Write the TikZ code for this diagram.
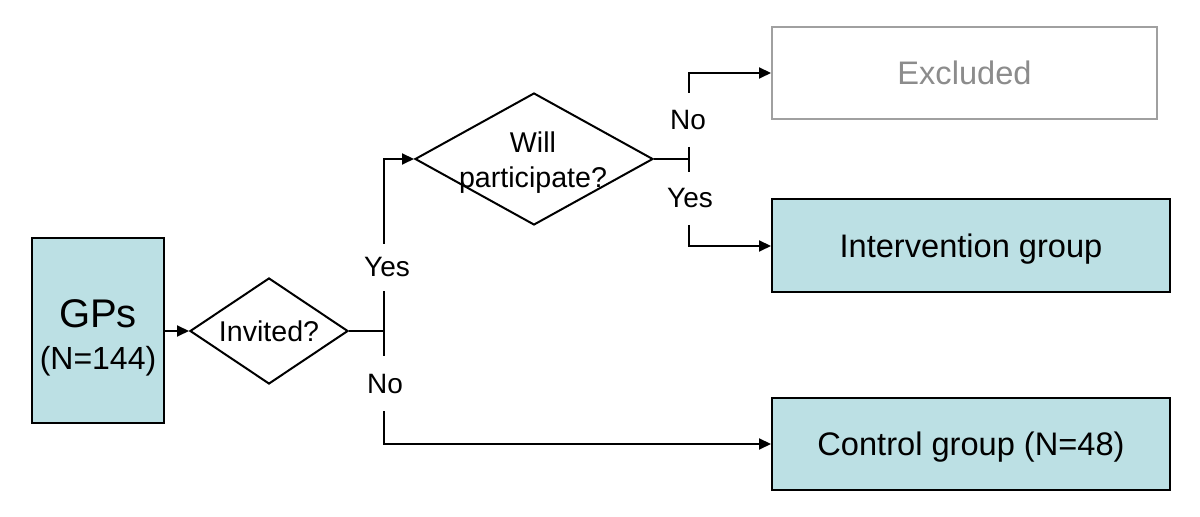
\documentclass[tikz,border=0pt]{standalone}
\usepackage{fontspec}
\setmainfont{Liberation Sans}
\usetikzlibrary{shapes.geometric,arrows.meta}
\definecolor{boxblue}{RGB}{188,224,228}
\definecolor{exgray}{RGB}{160,160,160}
\definecolor{extext}{RGB}{140,140,140}
\begin{document}
\begin{tikzpicture}[x=0.5pt,y=-0.5pt,
  line width=1pt,
  arr/.style={-{Triangle[length=6pt,width=5.5pt]}},
  bluebox/.style={draw=black,fill=boxblue,inner sep=0pt,font=\fontsize{16.3}{19}\selectfont,
    text height=11.7pt,text depth=0pt},
  dec/.style={draw=black,shape=diamond,inner sep=0pt},
  dtext/.style={font=\fontsize{14.3}{17.5}\selectfont,align=center,inner sep=0pt},
  lab/.style={font=\fontsize{14}{16}\selectfont,inner sep=0pt,minimum width=10pt}]
\useasboundingbox (0,0) rectangle (1200,517);
% boxes
\node[bluebox,minimum width=66pt,minimum height=92.5pt] (gps) at (98,331) {};
\node[font=\fontsize{20}{23}\selectfont,inner sep=0pt,text height=14.3pt,text depth=0pt] (gpst) at (98,313) {GPs};
\node[font=\fontsize{16}{19}\selectfont,inner sep=0pt,text height=11.5pt,text depth=0pt] (gpsn) at (98,358) {(N=144)};
\node[draw=exgray,line width=1pt,fill=white,text=extext,inner sep=0pt,font=\fontsize{16.3}{19}\selectfont,
  text height=11.7pt,text depth=0pt,
  minimum width=192.5pt,minimum height=46pt] (excl) at (964.5,73) {Excluded};
\node[bluebox,minimum width=199pt,minimum height=46.5pt] (int) at (971,246) {Intervention group};
\node[bluebox,minimum width=199pt,minimum height=46pt] (ctrl) at (971,444) {Control group (N=48)};
% decisions
\node[dec,minimum width=79pt,minimum height=53pt] (inv) at (269,331) {};
\node[dtext] (invt) at (inv) {Invited?};
\node[dec,minimum width=119pt,minimum height=66pt] (wp) at (534,159) {};
\node[dtext] (wpt) at (533,163) {Will\\participate?};
% junctions and labels
\coordinate (j1) at (384,331);
\coordinate (j2) at (689,159);
\node[lab,minimum height=22.5pt] (yes1) at (387,267.5) {Yes};
\node[lab,minimum height=26.5pt] (no1) at (385,384) {No};
\node[lab,minimum height=26pt] (no2) at (688,120) {No};
\node[lab,minimum height=25.5pt] (yes2) at (690,198.5) {Yes};
% connectors
\draw[arr] (gps.east) -- (inv.west);
\draw (inv.east) -- (j1);
\draw (j1) -- (j1 |- yes1.south);
\draw[arr] (j1 |- yes1.north) |- (wp.west);
\draw (j1) -- (j1 |- no1.north);
\draw[arr] (j1 |- no1.south) |- (ctrl.west);
\draw (wp.east) -- (j2);
\draw (j2 |- no2.south) -- (j2 |- yes2.north);
\draw[arr] (j2 |- no2.north) |- (excl.west);
\draw[arr] (j2 |- yes2.south) |- (int.west);
\end{tikzpicture}
\end{document}
